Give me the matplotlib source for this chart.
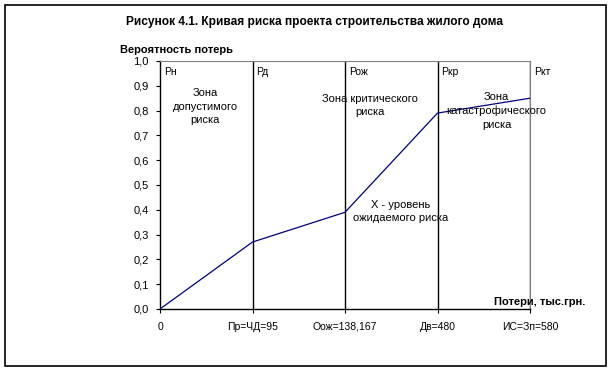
import matplotlib.pyplot as plt
from matplotlib.patches import Rectangle

plt.rcParams['font.family'] = ['Liberation Sans', 'DejaVu Sans']

categories = ['0', 'Пр=ЧД=95', 'Оож=138,167', 'Дв=480', 'ИС=Зп=580']
probability = [0.0, 0.27, 0.39, 0.79, 0.85]
level_labels = ['Рн', 'Рд', 'Рож', 'Ркр', 'Ркт']
yticks = [0.0, 0.1, 0.2, 0.3, 0.4, 0.5, 0.6, 0.7, 0.8, 0.9, 1.0]

fig = plt.figure(figsize=(6.12, 3.71), dpi=100)
ax = fig.add_axes([160/612, 1-309/371, 370/612, 248/371])

x = range(len(categories))
ax.plot(x, probability, color='#000080', lw=0.9, zorder=3)
for i in range(1, len(categories)):
    ax.axvline(i, color='black', lw=1.0, zorder=2)

ax.set_xlim(0, len(categories)-1)
ax.set_ylim(0, 1)
ax.set_xticks(list(x), categories, fontsize=7.5, va='baseline')
ax.set_yticks(yticks, [('%.1f' % v).replace('.', ',') for v in yticks], fontsize=8)
ax.tick_params(direction='out', length=3, width=0.8, pad=5)
ax.tick_params(axis='x', pad=12)

for s in ['top', 'right']:
    ax.spines[s].set_color('#808080')
for s in ['left', 'bottom']:
    ax.spines[s].set_color('black')
    ax.spines[s].set_linewidth(1.0)

for i, lab in enumerate(level_labels):
    ax.text(i + 0.04, 0.975, lab, fontsize=7.5, va='top', ha='left', clip_on=False)

zone_kw = dict(fontsize=8, ha='center', va='center', linespacing=1.45)
ax.text(0.49, 0.815, 'Зона\nдопустимого\nриска', **zone_kw)
ax.text(2.27, 0.82, 'Зона критического\nриска', **zone_kw)
ax.text(3.64, 0.80, 'Зона\nкатастрофического\nриска', **zone_kw)
ax.text(2.6, 0.393, 'Х - уровень\nожидаемого риска', **zone_kw)

fig.text(585/612, 1-302/371, 'Потери, тыс.грн.', fontsize=8, fontweight='bold', ha='right', va='center')
fig.text(120/612, 1-50/371, 'Вероятность потерь', fontsize=8, fontweight='bold', ha='left', va='center')
fig.text(315/612, 1-22/371, 'Рисунок 4.1. Кривая риска проекта строительства жилого дома',
         fontsize=8.6, fontweight='bold', ha='center', va='center')

fig.patches.append(Rectangle((5/612, 1-366/371), 601/612, 361/371, transform=fig.transFigure,
                             fill=False, edgecolor='black', lw=1.2))

fig.savefig('out.png', dpi=100)
